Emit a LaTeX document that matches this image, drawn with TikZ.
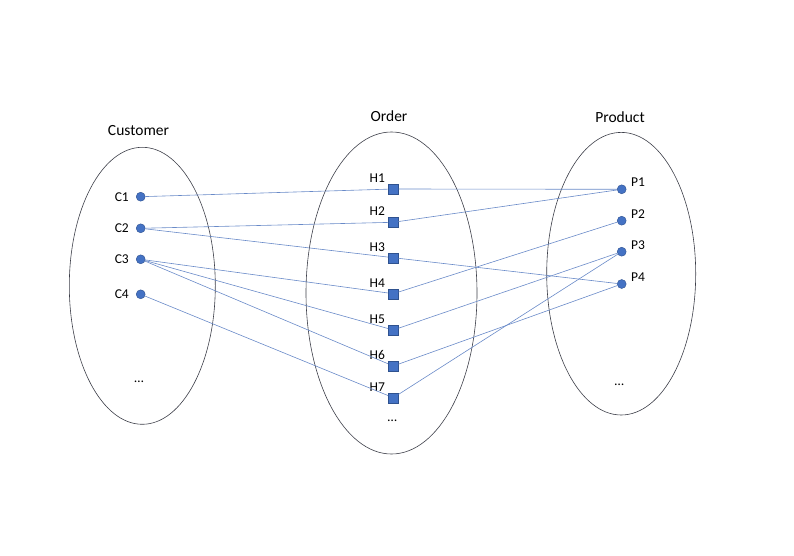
\documentclass[tikz,border=0pt]{standalone}
\usepackage{fontspec}
\setmainfont{Carlito}
\usepackage{xcolor}
\usepackage{tikz}
\usetikzlibrary{positioning}
\definecolor{dotblue}{RGB}{68, 114, 196}
\definecolor{dotedge}{RGB}{47, 82, 143}
\definecolor{linkblue}{RGB}{105, 138, 200}
\definecolor{setgray}{RGB}{60, 62, 72}

\begin{document}
\begin{tikzpicture}[x=1pt, y=-1pt,
    setline/.style={draw=setgray, line width=0.6pt},
    settitle/.style={font=\fontsize{15.5}{18}\selectfont, anchor=base},
    cdot/.style={circle, fill=dotblue, draw=dotedge, line width=0.4pt, inner sep=0pt, minimum size=9pt},
    hbox/.style={rectangle, fill=dotblue, draw=dotedge, line width=0.4pt, inner sep=0pt, minimum size=10pt},
    clabel/.style={font=\fontsize{13.5}{16}\selectfont, inner sep=0pt, xshift=-7pt},
    hlabel/.style={font=\fontsize{13.5}{16}\selectfont, inner sep=0pt, anchor=base east, xshift=-3pt, yshift=1.5pt},
    plabel/.style={font=\fontsize{13.5}{16}\selectfont, inner sep=0pt, anchor=base west, xshift=4.5pt, yshift=2.5pt},
    more/.style={font=\fontsize{13.5}{16}\selectfont, anchor=base},
    link/.style={draw=linkblue, line width=0.6pt}]
            \useasboundingbox (0,0) rectangle (794,556);

            % the three sets
            \draw[setline] (142.3,285.8) ellipse [x radius=73pt, y radius=138.5pt];
            \draw[setline] (391.5,293) ellipse [x radius=85.5pt, y radius=161pt];
            \draw[setline] (621.2,273.7) ellipse [x radius=74.5pt, y radius=141.3pt];
            \node[settitle] (customer) at (138.5,136) {Customer};
            \node[settitle] (order) at (389,121.7) {Order};
            \node[settitle] (product) at (620,122.3) {Product};

            % customers
            \node[cdot, label={[clabel]left:C1}] (c1) at (140.7,196.7) {};
            \node[cdot, label={[clabel]left:C2}] (c2) at (140.7,228.3) {};
            \node[cdot, label={[clabel]left:C3}] (c3) at (140.7,259.3) {};
            \node[cdot, label={[clabel]left:C4}] (c4) at (140.7,294.3) {};
            \node[more] (cmore) at (139,382) {…};

            % orders
            \node[hbox, label={[hlabel]north west:H1}] (h1) at (393.3,189) {};
            \node[hbox, label={[hlabel]north west:H2}] (h2) at (393.3,222.3) {};
            \node[hbox, label={[hlabel]north west:H3}] (h3) at (393.3,257.7) {};
            \node[hbox, label={[hlabel]north west:H4}] (h4) at (393.3,293.7) {};
            \node[hbox, label={[hlabel]north west:H5}] (h5) at (393.3,330) {};
            \node[hbox, label={[hlabel]north west:H6}] (h6) at (393.3,366) {};
            \node[hbox, label={[hlabel]north west:H7}] (h7) at (393.3,397.7) {};
            \node[more] (hmore) at (392.3,421) {…};

            % products
            \node[cdot, label={[plabel]right:P1}] (p1) at (621.7,189.3) {};
            \node[cdot, label={[plabel]right:P2}] (p2) at (621.7,220.7) {};
            \node[cdot, label={[plabel]right:P3}] (p3) at (621.7,251.7) {};
            \node[cdot, label={[plabel]right:P4}] (p4) at (621.7,284) {};
            \node[more] (pmore) at (619.3,385) {…};

            % customer to order
            \draw[link] (c1) -- (h1);
            \draw[link] (c2) -- (h2);
            \draw[link] (c2) -- (h3);
            \draw[link] (c3) -- (h4);
            \draw[link] (c3) -- (h5);
            \draw[link] (c3) -- (h6);
            \draw[link] (c4) -- (h7);

            % order to product
            \draw[link] (h1) -- (p1);
            \draw[link] (h2) -- (p1);
            \draw[link] (h3) -- (p4);
            \draw[link] (h4) -- (p2);
            \draw[link] (h5) -- (p3);
            \draw[link] (h6) -- (p4);
            \draw[link] (h7) -- (p3);
        \end{tikzpicture}
\end{document}
